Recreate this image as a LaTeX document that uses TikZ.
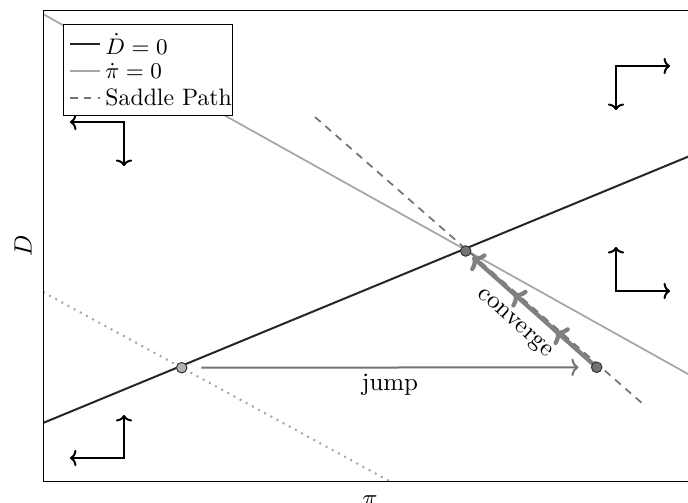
\documentclass[tikz,border=0pt]{standalone}
\usetikzlibrary{arrows.meta,decorations.markings}
\begin{document}
\begin{tikzpicture}[x=0.4pt,y=-0.4pt,
  frame/.style={draw=black,line width=0.4pt},
  ddotline/.style={draw=black!85,line width=0.8pt},
  pidotline/.style={draw=black!35,line width=0.7pt},
  saddle/.style={draw=black!55,line width=0.7pt,dash pattern=on 3pt off 2.5pt},
  shifted/.style={draw=black!35,line width=0.8pt,dash pattern=on 0.8pt off 2pt},
  dotdark/.style={circle,draw=black!80,fill=black!55,line width=0.4pt,inner sep=0pt,minimum size=4.2pt},
  dotlight/.style={circle,draw=black!80,fill=black!30,line width=0.4pt,inner sep=0pt,minimum size=4.2pt},
  corner/.style={draw=black,line width=0.8pt,{To[length=2.6pt,width=6.5pt]}-{To[length=2.6pt,width=6.5pt]}},
  jumparrow/.style={draw=black!55,line width=0.8pt,-{To[length=2.8pt,width=7pt]}},
  convtip/.tip={To[length=4pt,width=9pt]},
  conv/.style={draw=black!50,line width=1.7pt,-convtip,
    postaction={decorate},
    decoration={markings,
      mark=at position 0.33 with {\arrow{convtip}},
      mark=at position 0.67 with {\arrow{convtip}}}},
  lbl/.style={font=\normalsize,inner sep=1pt},
  legtext/.style={anchor=west,inner sep=0pt,font=\fontsize{9.5}{11}\selectfont}
]
\useasboundingbox (0,0) rectangle (688,502);

% dot positions
\coordinate (Epos) at (465.7,251);
\coordinate (Spos) at (596.7,367.3);
\coordinate (Ppos) at (181.7,367.7);
\coordinate (Ctip) at (472.5,257);

\begin{scope}
  \clip (43,10) rectangle (697,481);
  % pi-dot = 0
  \coordinate (g1) at (43,14);
  \coordinate (g2) at (697,379);
  \draw[pidotline] (g1) -- (g2);
  % shifted (dotted)
  \coordinate (s1) at (43,292);
  \coordinate (s2) at (389.3,481);
  \draw[shifted] (s1) -- (s2);
  % saddle path
  \coordinate (sp1) at (315,117);
  \coordinate (sp2) at (643,404);
  \draw[saddle] (sp1) -- (sp2);
  % D-dot = 0
  \coordinate (b1) at (43,423);
  \coordinate (b2) at (697,153);
  \draw[ddotline] (b1) -- (b2);
\end{scope}

% frame
\draw[frame] (697,10) -- (43,10) -- (43,481) -- (697,481);

% converge arrow
\draw[conv] (Spos) -- (Ctip);

% dots
\node[dotdark] (E) at (Epos) {};
\node[dotdark] (S) at (Spos) {};
\node[dotlight] (P) at (Ppos) {};

% jump
\draw[jumparrow,shorten <=5.6pt,shorten >=5pt] (P) -- (S);
\node[lbl] (jump) at (390,385) {jump};
\node[lbl,rotate=-41.6] (conv) at (514,324) {converge};

% corner arrows
\draw[corner] (616,110) -- (616,66) -- (670,66);
\draw[corner] (70,122) -- (124,122) -- (124,166);
\draw[corner] (616,247) -- (616,291) -- (670,291);
\draw[corner] (70,458) -- (124,458) -- (124,415);

% axis labels
\node[lbl,rotate=90] (ylab) at (23,245.5) {$D$};
\node[lbl,anchor=north] (xlab) at (370,493) {$\pi$};

% legend
\node[draw=black,fill=white,line width=0.4pt,minimum width=169*0.4pt,minimum height=91*0.4pt,anchor=north west,inner sep=0pt] (leg) at (63,24) {};
\draw[ddotline] (70,44.3) -- (100,44.3);
\draw[pidotline] (70,71) -- (100,71);
\draw[saddle] (70,97.7) -- (100,97.7);
\node[legtext] (l1) at (105,44.3) {$\dot D = 0$};
\node[legtext] (l2) at (105,71) {$\dot \pi = 0$};
\node[legtext] (l3) at (105,97.7) {Saddle Path};
\end{tikzpicture}
\end{document}
